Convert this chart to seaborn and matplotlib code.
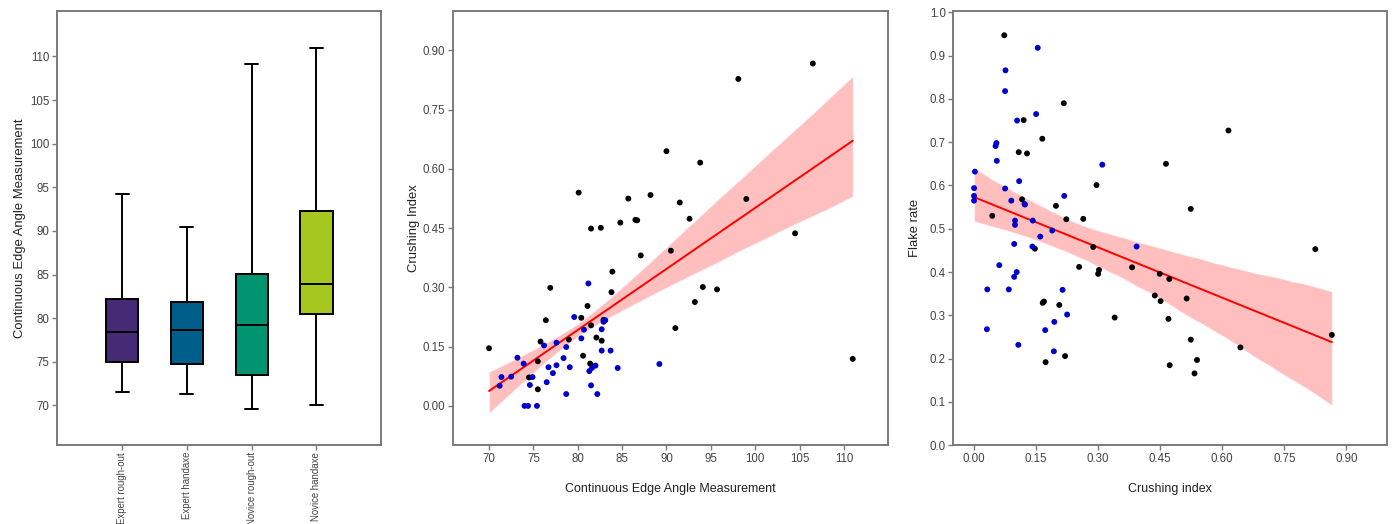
import numpy as np
import pandas as pd
import matplotlib
matplotlib.use("Agg")
import matplotlib.pyplot as plt
from matplotlib.ticker import FormatStrFormatter
import seaborn as sns

# ---- Edge angle by knapper group (five-number summaries) ----
box_groups = ["Expert rough-out", "Expert handaxe", "Novice rough-out", "Novice handaxe"]
box_colors = ["#472a76", "#005e8a", "#009470", "#a6c71d"]
angle_min = [71.5, 71.3, 69.6, 70.0]
angle_q1 = [75.0, 74.7, 73.5, 80.5]
angle_median = [78.4, 78.7, 79.2, 83.9]
angle_q3 = [82.2, 81.9, 85.1, 92.3]
angle_max = [94.2, 90.5, 109.1, 111.0]

# ---- Edge angle vs crushing index ----
angle_novice = [70.0, 87.1, 90.5, 83.9, 83.8, 76.9, 81.1, 76.4, 80.4, 81.5, 82.9, 94.1,
                95.7, 93.2, 91.0, 75.8, 79.0, 82.1, 82.7, 80.6, 75.5, 81.4, 74.5, 75.5,
                111.0, 106.5, 98.1, 90.0, 93.8, 80.1, 85.7, 88.2, 91.5, 99.0, 81.5, 82.6,
                84.8, 86.5, 86.7, 92.6, 104.5]
crush_novice = [0.146, 0.381, 0.393, 0.340, 0.288, 0.299, 0.253, 0.217, 0.223, 0.204, 0.218,
                0.301, 0.295, 0.263, 0.197, 0.163, 0.168, 0.173, 0.165, 0.127, 0.113, 0.107,
                0.072, 0.042, 0.119, 0.867, 0.828, 0.645, 0.616, 0.540, 0.525, 0.534, 0.515,
                0.524, 0.449, 0.451, 0.464, 0.471, 0.470, 0.474, 0.437]
angle_expert = [81.2, 79.6, 83.1, 82.9, 80.7, 82.7, 80.4, 76.2, 77.6, 78.7, 82.7, 83.7,
                73.2, 73.9, 78.4, 76.7, 77.6, 79.1, 77.2, 82.0, 81.6, 81.3, 84.5, 89.2,
                71.4, 72.5, 74.9, 71.2, 74.6, 76.5, 81.5, 78.7, 82.2, 74.0, 74.4, 75.4]
crush_expert = [0.310, 0.225, 0.217, 0.213, 0.193, 0.194, 0.171, 0.153, 0.160, 0.149, 0.140,
                0.140, 0.122, 0.107, 0.121, 0.098, 0.103, 0.098, 0.083, 0.102, 0.096, 0.088,
                0.096, 0.106, 0.073, 0.074, 0.073, 0.051, 0.053, 0.060, 0.052, 0.030, 0.030,
                0.0, 0.0, 0.0]

# ---- Crushing index vs flake rate ----
ci_novice = [0.073, 0.217, 0.120, 0.165, 0.108, 0.128, 0.296, 0.116, 0.198, 0.044, 0.223,
             0.264, 0.288, 0.147, 0.254, 0.300, 0.302, 0.382, 0.437, 0.449, 0.451, 0.169,
             0.166, 0.206, 0.340, 0.220, 0.173, 0.615, 0.464, 0.524, 0.825, 0.472, 0.514,
             0.470, 0.524, 0.644, 0.865, 0.539, 0.473, 0.533]
flake_novice = [0.947, 0.790, 0.751, 0.708, 0.677, 0.674, 0.601, 0.568, 0.553, 0.530, 0.522,
                0.523, 0.458, 0.454, 0.412, 0.396, 0.405, 0.411, 0.346, 0.396, 0.333, 0.332,
                0.329, 0.324, 0.295, 0.206, 0.192, 0.727, 0.650, 0.546, 0.453, 0.384, 0.339,
                0.292, 0.244, 0.226, 0.255, 0.197, 0.185, 0.166]
ci_expert = [0.154, 0.076, 0.075, 0.150, 0.104, 0.054, 0.052, 0.055, 0.310, 0.002, 0.0,
             0.075, 0.109, 0.0, 0.0, 0.090, 0.122, 0.123, 0.218, 0.099, 0.099, 0.142,
             0.189, 0.160, 0.097, 0.141, 0.393, 0.061, 0.103, 0.097, 0.032, 0.084, 0.214,
             0.225, 0.194, 0.172, 0.031, 0.107, 0.193]
flake_expert = [0.918, 0.866, 0.818, 0.765, 0.750, 0.698, 0.691, 0.657, 0.648, 0.632, 0.594,
                0.593, 0.610, 0.576, 0.565, 0.565, 0.557, 0.556, 0.576, 0.519, 0.509, 0.519,
                0.496, 0.482, 0.465, 0.459, 0.459, 0.416, 0.400, 0.389, 0.360, 0.360, 0.359,
                0.302, 0.285, 0.266, 0.268, 0.232, 0.217]

group_palette = {"novice": "black", "expert": "#0000cd"}

sns.set_theme(style="white")
plt.rcParams["font.family"] = ["Liberation Sans", "DejaVu Sans"]

SPINE = "#7a7a7a"
TICKC = "#444444"
LABELC = "#222222"
XLAB_SIZE = 9.0
YLAB_SIZE = 9.4

fig = plt.figure(figsize=(13.92, 5.24), dpi=100)
ax_box = fig.add_axes([0.0412, 0.1505, 0.2327, 0.8285])
ax_mid = fig.add_axes([0.3252, 0.1508, 0.3129, 0.8282])
ax_right = fig.add_axes([0.6849, 0.1502, 0.3114, 0.8288])


def style_axes(ax):
    for s in ax.spines.values():
        s.set_color(SPINE)
        s.set_linewidth(1.4)
        s.set_visible(True)
    ax.tick_params(axis="both", which="both", direction="out", length=3.5, width=1,
                   color=SPINE, labelcolor=TICKC, labelsize=8.3, pad=2,
                   bottom=True, left=True, top=False, right=False)
    ax.grid(False)


# ---- Box plot ----
stats = [
    dict(whislo=lo, q1=a, med=m, q3=b, whishi=hi, fliers=[], label=g)
    for g, lo, a, m, b, hi in zip(box_groups, angle_min, angle_q1, angle_median, angle_q3, angle_max)
]
bp = ax_box.bxp(stats, positions=range(len(box_groups)), widths=0.5, capwidths=0.2,
                patch_artist=True, showfliers=False,
                boxprops=dict(edgecolor="black", linewidth=1.4),
                medianprops=dict(color="black", linewidth=1.4),
                whiskerprops=dict(color="black", linewidth=1.4),
                capprops=dict(color="black", linewidth=1.4))
for patch, c in zip(bp["boxes"], box_colors):
    patch.set_facecolor(c)
ax_box.set_xlim(-1, 4)
ax_box.set_ylim(65.45, 115.2)
ax_box.set_yticks(np.arange(70, 111, 5))
ax_box.set_xticks(range(len(box_groups)))
style_axes(ax_box)
ax_box.tick_params(axis="x", pad=1.5)
ax_box.set_xticklabels(box_groups, rotation=90, va="top", ha="center", fontsize=6.9)
ax_box.set_ylabel("Continuous Edge Angle Measurement", fontsize=YLAB_SIZE, color=LABELC, labelpad=3)

# ---- Edge angle vs crushing index ----
mid_df = pd.DataFrame({
    "angle": angle_novice + angle_expert,
    "crush": crush_novice + crush_expert,
    "group": ["novice"] * len(angle_novice) + ["expert"] * len(angle_expert),
})
sns.regplot(data=mid_df, x="angle", y="crush", scatter=False, ax=ax_mid, color="red",
            ci=80, seed=3, line_kws=dict(linewidth=1.4))
ax_mid.collections[-1].set_alpha(0.25)
sns.scatterplot(data=mid_df, x="angle", y="crush", hue="group", palette=group_palette,
                s=18, linewidth=0, legend=False, ax=ax_mid, zorder=3)
ax_mid.set_xlim(65.9, 115.0)
ax_mid.set_ylim(-0.099, 1.0)
ax_mid.set_xticks(np.arange(70, 111, 5))
ax_mid.set_yticks(np.arange(0, 0.91, 0.15))
ax_mid.yaxis.set_major_formatter(FormatStrFormatter("%.2f"))
ax_mid.set_xlabel("Continuous Edge Angle Measurement", fontsize=XLAB_SIZE, color=LABELC, labelpad=13)
ax_mid.set_ylabel("Crushing Index", fontsize=YLAB_SIZE, color=LABELC, labelpad=2)
style_axes(ax_mid)

# ---- Crushing index vs flake rate ----
right_df = pd.DataFrame({
    "crush": ci_novice + ci_expert,
    "flake": flake_novice + flake_expert,
    "group": ["novice"] * len(ci_novice) + ["expert"] * len(ci_expert),
})
sns.regplot(data=right_df, x="crush", y="flake", scatter=False, ax=ax_right, color="red",
            ci=95, seed=3, line_kws=dict(linewidth=1.4))
ax_right.collections[-1].set_alpha(0.25)
sns.scatterplot(data=right_df, x="crush", y="flake", hue="group", palette=group_palette,
                s=18, linewidth=0, legend=False, ax=ax_right, zorder=3)
ax_right.set_xlim(-0.05, 0.998)
ax_right.set_ylim(0, 1.003)
ax_right.set_xticks(np.arange(0, 0.91, 0.15))
ax_right.set_yticks(np.arange(0, 1.01, 0.1))
ax_right.xaxis.set_major_formatter(FormatStrFormatter("%.2f"))
ax_right.yaxis.set_major_formatter(FormatStrFormatter("%.1f"))
ax_right.set_xlabel("Crushing index", fontsize=XLAB_SIZE, color=LABELC, labelpad=13)
ax_right.set_ylabel("Flake rate", fontsize=YLAB_SIZE, color=LABELC, labelpad=6)
style_axes(ax_right)

fig.savefig("out.png", dpi=100, facecolor="white")
